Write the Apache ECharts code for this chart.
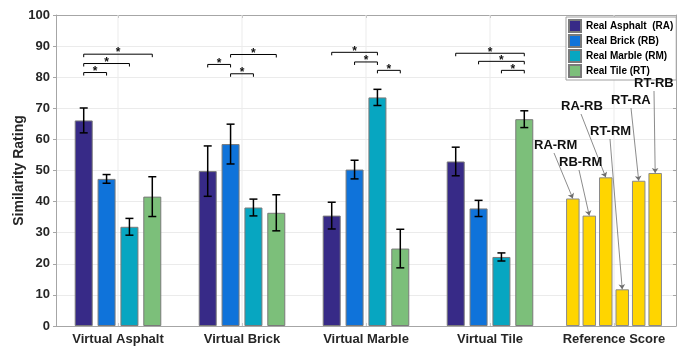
<!DOCTYPE html>
<html><head><meta charset="utf-8">
<script src="https://cdn.jsdelivr.net/npm/echarts@6/dist/echarts.min.js"></script>
<style>html,body{margin:0;padding:0;background:#fff}#c{width:686px;height:349px}</style>
</head><body><div id="c"></div>
<script>
const categories = ['Virtual Asphalt', 'Virtual Brick', 'Virtual Marble', 'Virtual Tile', 'Reference Score'];
const seriesNames = ['Real Asphalt  (RA)', 'Real Brick (RB)', 'Real Marble (RM)', 'Real Tile (RT)'];
const realAsphalt = [66.1, 49.8, 35.5, 52.9];
const realBrick = [47.3, 58.5, 50.3, 37.8];
const realMarble = [31.9, 38.1, 73.5, 22.2];
const realTile = [41.6, 36.4, 24.9, 66.5];
const errAsphalt = [4.0, 8.1, 4.3, 4.6];
const errBrick = [1.4, 6.4, 3.0, 2.6];
const errMarble = [2.7, 2.7, 2.6, 1.3];
const errTile = [6.4, 5.8, 6.2, 2.7];
const refLabels = ['RA-RM', 'RB-RM', 'RA-RB', 'RT-RM', 'RT-RA', 'RT-RB'];
const refScores = [41.0, 35.5, 47.8, 11.8, 46.7, 49.2];
// significance brackets
const sigGroup = [0, 0, 0, 1, 1, 1, 2, 2, 2, 3, 3, 3];
const sigFrom  = [0, 0, 0, 0, 1, 1, 0, 1, 2, 0, 1, 2];
const sigTo    = [1, 2, 3, 1, 2, 3, 2, 2, 3, 3, 3, 3];
const sigLevel = [81.5, 84.4, 87.4, 84.1, 81.1, 87.3, 88.0, 84.9, 82.2, 87.7, 85.1, 82.2];

// styling / layout (not data)
const FONT = '"Liberation Sans", Arial, sans-serif';
const colors = ['#372a87', '#0f73da', '#07a6c1', '#7cbf7a'];
const yellow = '#ffd500';
const BAR_W = 18, BAR_GAP = 0.27;
const SPACING = BAR_W * (1 + BAR_GAP);
const REF_W = 13.5, REF_GAP = 0.22;
const refLabelPos = [[534, 146], [559, 163], [561, 107], [590, 132], [611, 101], [634, 84]];
const axisGray = '#a6a6a6';

const means = [realAsphalt, realBrick, realMarble, realTile];
const errs = [errAsphalt, errBrick, errMarble, errTile];

const chart = echarts.init(document.getElementById('c'), null, {renderer: 'canvas'});

const barSeries = means.map((vals, k) => ({
  name: seriesNames[k], type: 'bar', xAxisIndex: 0, yAxisIndex: 0,
  data: vals.concat(['-']),
  barWidth: BAR_W, barGap: (BAR_GAP * 100) + '%',
  itemStyle: {color: colors[k], borderColor: '#7a7a7a', borderWidth: 1},
  z: 3, animation: false, silent: true
}));

const refSeries = refScores.map((v, i) => ({
  name: refLabels[i], type: 'bar', xAxisIndex: 1, yAxisIndex: 0,
  data: ['-', '-', '-', '-', v],
  barWidth: REF_W, barGap: (REF_GAP * 100) + '%',
  itemStyle: {color: yellow, borderColor: '#8a8a8a', borderWidth: 1},
  z: 3, animation: false, silent: true,
  markLine: {
    silent: true, animation: false, symbol: ['none', 'arrow'], symbolSize: 5,
    lineStyle: {color: '#6e6e6e', width: 0.8, type: 'solid'},
    label: {show: false},
    data: [[{x: refLabelPos[i][0] + 20, y: refLabelPos[i][1] + 7}, {coord: [4, v]}]]
  }
}));

const errData = [];
means.forEach((vals, k) => vals.forEach((m, c) => errData.push([c, k, m, errs[k][c]])));

const sigData = sigGroup.map((g, i) => [g, sigFrom[i], sigTo[i], sigLevel[i]]);

const option = {
  backgroundColor: '#fff',
  animation: false,
  grid: {left: 56, right: 10, top: 15, bottom: 23, containLabel: false},
  legend: {
    data: seriesNames, orient: 'vertical', left: 566, top: 17,
    itemWidth: 12, itemHeight: 12, itemGap: 1, icon: 'rect',
    padding: [2, 3, 2, 2], borderColor: '#a0a0a0', borderWidth: 1, backgroundColor: '#fff',
    selectedMode: false, z: 20,
    textStyle: {fontFamily: FONT, fontWeight: 'bold', fontSize: 10, color: '#000', lineHeight: 12}
  },
  xAxis: [{
    type: 'category', data: categories, position: 'bottom',
    axisLine: {show: true, lineStyle: {color: axisGray, width: 1}},
    axisTick: {show: true, inside: true, alignWithLabel: true, length: 3, lineStyle: {color: axisGray}},
    axisLabel: {fontFamily: FONT, fontWeight: 'bold', fontSize: 13, color: '#262626', margin: 7, interval: 0},
    splitLine: {show: false}
  }, {
    type: 'category', data: categories, position: 'top',
    axisLine: {show: true, onZero: false, lineStyle: {color: axisGray, width: 1}},
    axisTick: {show: true, inside: true, alignWithLabel: true, length: 3, lineStyle: {color: axisGray}},
    axisLabel: {show: false}, splitLine: {show: false}
  }],
  yAxis: [{
    type: 'value', min: 0, max: 100, interval: 10,
    name: 'Similarity Rating', nameLocation: 'middle', nameGap: 30, nameMoveOverlap: false,
    nameTextStyle: {fontFamily: FONT, fontWeight: 'bold', fontSize: 14, color: '#262626'},
    axisLine: {show: true, lineStyle: {color: axisGray, width: 1}},
    axisTick: {show: true, inside: false, length: 3, lineStyle: {color: axisGray}},
    axisLabel: {fontFamily: FONT, fontWeight: 'bold', fontSize: 13, color: '#262626', margin: 6},
    splitLine: {show: true, lineStyle: {color: '#ebebeb', width: 1}}
  }, {
    type: 'value', min: 0, max: 100, interval: 10, position: 'right',
    axisLine: {show: true, lineStyle: {color: axisGray, width: 1}},
    axisTick: {show: true, inside: true, length: 3, lineStyle: {color: axisGray}},
    axisLabel: {show: false}, splitLine: {show: false}
  }],
  graphic: refLabels.map((t, i) => ({
    type: 'text', left: refLabelPos[i][0], top: refLabelPos[i][1] - 7, z: 50, silent: true,
    style: {text: t, font: 'bold 13px ' + FONT, fill: '#111'}
  })),
  series: [{
    type: 'custom', xAxisIndex: 0, yAxisIndex: 0, silent: true, z: 1,
    data: categories.map((c, i) => [i, 0]), encode: {x: 0, y: 1},
    renderItem: (params, api) => {
      const p0 = api.coord([api.value(0), 0]);
      const p1 = api.coord([api.value(0), 100]);
      return {type: 'line', shape: {x1: p0[0], y1: p0[1], x2: p1[0], y2: p1[1]},
        style: {stroke: '#ebebeb', lineWidth: 1}};
    }
  }].concat(barSeries, refSeries, [{
    type: 'custom', xAxisIndex: 0, yAxisIndex: 0, silent: true, z: 10,
    data: errData, encode: {x: 0, y: 2},
    renderItem: (params, api) => {
      const c = api.value(0), k = api.value(1), m = api.value(2), e = api.value(3);
      const pc = api.coord([c, m]);
      const x = pc[0] + (k - 1.5) * SPACING;
      const yt = api.coord([c, m + e])[1];
      const yb = api.coord([c, m - e])[1];
      const st = {stroke: '#000', lineWidth: 1.5};
      return {type: 'group', children: [
        {type: 'line', shape: {x1: x, y1: yt, x2: x, y2: yb}, style: st},
        {type: 'line', shape: {x1: x - 4, y1: yt, x2: x + 4, y2: yt}, style: st},
        {type: 'line', shape: {x1: x - 4, y1: yb, x2: x + 4, y2: yb}, style: st}
      ]};
    }
  }, {
    type: 'custom', xAxisIndex: 0, yAxisIndex: 0, silent: true, z: 10,
    data: sigData, encode: {x: 0, y: 3},
    renderItem: (params, api) => {
      const g = api.value(0), a = api.value(1), b = api.value(2), lv = api.value(3);
      const pc = api.coord([g, lv]);
      const x1 = pc[0] + (a - 1.5) * SPACING;
      const x2 = pc[0] + (b - 1.5) * SPACING;
      const y = pc[1];
      return {type: 'group', children: [
        {type: 'polyline', shape: {points: [[x1, y + 3], [x1, y], [x2, y], [x2, y + 3]]},
          style: {stroke: '#000', lineWidth: 1, fill: null}},
        {type: 'text', style: {text: '*', x: (x1 + x2) / 2, y: y - 1, align: 'center', verticalAlign: 'middle',
          font: 'bold 12px ' + FONT, fill: '#111'}}
      ]};
    }
  }])
};
chart.setOption(option);
</script>
</body></html>
